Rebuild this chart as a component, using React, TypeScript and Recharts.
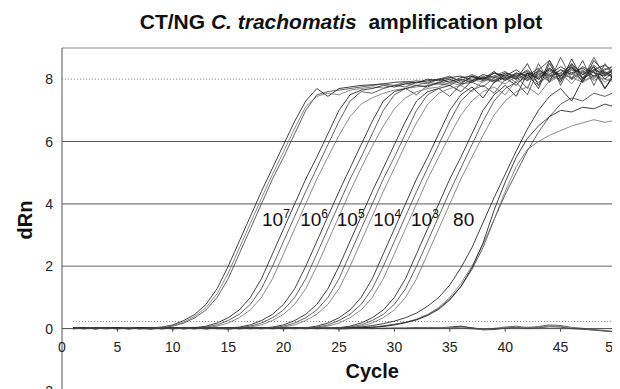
import React from 'react';
import { LineChart, Line, XAxis, YAxis, ReferenceLine, ReferenceDot } from 'recharts';

const CYCLES = [1,2,3,4,5,6,7,8,9,10,11,12,13,14,15,16,17,18,19,20,21,22,23,24,25,26,27,28,29,30,31,32,33,34,35,36,37,38,39,40,41,42,43,44,45,46,47,48,49,50];
const X_TICKS = [0,5,10,15,20,25,30,35,40,45,50];
const Y_TICKS = [-2,0,2,4,6,8];

// 10^7 copies
const CT_1E7_A = [0.02,0.01,0.03,0.02,0.00,0.01,0.02,0.02,0.05,0.12, 0.26,0.46,0.78,1.28,2.0,2.8,3.6,4.4,5.15,5.9, 6.65,7.3,7.7,7.45,7.7,7.75,7.8,7.82,7.85,7.9, 7.92,7.88,8.0,7.95,8.05,8.1,7.95,8.15,8.05,8.2, 8.1,8.25,8.05,8.3,8.1,8.35,8.15,8.3,8.45,8.2];
const CT_1E7_B = [0.01,0.03,0.00,0.02,0.01,0.00,0.02,0.01,0.03,0.08, 0.18,0.35,0.6,1.0,1.6,2.4,3.2,4.0,4.8,5.5, 6.25,7.0,7.5,7.6,7.65,7.7,7.75,7.8,7.85,7.8, 7.9,7.95,7.9,8.0,8.1,7.9,8.05,8.0,8.2,8.05, 8.15,8.0,8.2,8.1,8.3,8.0,8.25,8.1,8.2,8.0];
const CT_1E7_C = [0.00,0.02,0.01,0.03,0.01,0.02,0.00,0.02,0.04,0.1, 0.21,0.4,0.68,1.12,1.78,2.58,3.38,4.18,4.95,5.68, 6.42,7.12,7.45,7.55,7.5,7.65,7.7,7.75,7.72,7.8, 7.85,7.8,7.9,7.85,7.95,8.0,7.9,8.05,7.95,8.1, 7.9,8.05,8.15,7.95,8.2,8.05,7.9,8.1,8.0,7.9];
// 10^6 copies
const CT_1E6_A = [0.02,0.00,0.01,0.03,0.02,0.00,0.01,0.02,0.00,0.01, 0.01,0.03,0.08,0.18,0.35,0.6,1.0,1.6,2.4,3.2, 4.0,4.8,5.5,6.25,7.0,7.5,7.65,7.7,7.8,7.75, 7.85,7.9,7.95,8.0,7.9,8.05,8.1,7.95,8.2,8.1, 8.3,8.05,8.25,8.15,8.4,8.2,8.35,8.1,8.3,8.45];
const CT_1E6_B = [0.01,0.02,0.00,0.01,0.03,0.01,0.00,0.02,0.01,0.00, 0.01,0.02,0.05,0.12,0.26,0.46,0.78,1.28,2.0,2.8, 3.6,4.4,5.15,5.9,6.65,7.3,7.6,7.55,7.7,7.8, 7.75,7.9,7.85,8.0,8.05,7.95,8.15,8.0,8.1,8.25, 8.0,8.2,8.1,8.35,8.05,8.3,8.2,8.45,8.15,8.3];
const CT_1E6_C = [0.00,0.01,0.02,0.00,0.02,0.01,0.03,0.01,0.00,0.02, 0.01,0.01,0.03,0.08,0.18,0.35,0.6,1.0,1.6,2.4, 3.2,4.0,4.8,5.5,6.2,6.8,7.2,7.4,7.55,7.65, 7.7,7.75,7.8,7.9,7.85,8.0,7.9,8.05,7.95,8.1, 8.0,8.15,7.9,8.1,8.0,8.2,7.95,8.1,8.25,8.05];
// 10^5 copies
const CT_1E5_A = [0.01,0.02,0.00,0.01,0.02,0.00,0.01,0.03,0.01,0.00, 0.02,0.01,0.00,0.01,0.02,0.05,0.12,0.26,0.46,0.78, 1.28,2.0,2.8,3.6,4.4,5.15,5.9,6.65,7.3,7.6, 7.7,7.8,7.75,7.9,8.0,7.85,8.1,8.0,8.25,7.95, 8.2,8.1,8.35,8.0,8.3,8.15,8.4,8.2,8.1,8.35];
const CT_1E5_B = [0.02,0.00,0.01,0.02,0.00,0.01,0.02,0.00,0.01,0.02, 0.01,0.00,0.01,0.02,0.01,0.03,0.08,0.18,0.35,0.6, 1.0,1.6,2.4,3.2,4.0,4.8,5.5,6.25,7.0,7.5, 7.7,7.5,7.8,7.85,7.8,8.0,7.9,8.1,7.95,8.2, 8.05,8.3,8.0,8.25,8.1,8.4,8.0,8.3,8.15,8.1];
const CT_1E5_C = [0.01,0.00,0.02,0.01,0.00,0.02,0.01,0.00,0.01,0.03, 0.01,0.00,0.02,0.01,0.01,0.02,0.05,0.12,0.26,0.46, 0.78,1.28,2.0,2.8,3.6,4.4,5.15,5.85,6.5,7.05, 7.4,7.6,7.7,7.75,7.9,7.8,8.0,7.9,8.1,8.0, 8.2,7.95,8.15,8.05,8.3,8.0,8.25,8.05,8.35,8.2];
// 10^4 copies
const CT_1E4_A = [0.01,0.02,0.00,0.01,0.02,0.01,0.00,0.02,0.01,0.00, 0.01,0.02,0.00,0.01,0.02,0.01,0.01,0.02,0.05,0.12, 0.26,0.46,0.78,1.28,2.0,2.8,3.6,4.4,5.15,5.9, 6.65,7.3,7.6,7.7,7.8,7.6,7.95,8.05,7.9,8.15, 8.0,8.5,7.8,8.6,8.0,8.4,7.9,8.6,8.2,8.3];
const CT_1E4_B = [0.00,0.01,0.02,0.00,0.01,0.02,0.00,0.01,0.00,0.02, 0.01,0.00,0.01,0.02,0.00,0.01,0.01,0.02,0.03,0.08, 0.18,0.35,0.6,1.0,1.6,2.4,3.2,4.0,4.8,5.5, 6.25,7.0,7.5,7.7,7.45,7.85,7.9,7.75,8.05,8.0, 8.2,7.95,8.3,8.1,8.2,8.45,8.05,8.3,8.2,8.0];
const CT_1E4_C = [0.02,0.01,0.00,0.02,0.01,0.00,0.01,0.02,0.01,0.00, 0.02,0.01,0.00,0.01,0.02,0.00,0.01,0.01,0.02,0.05, 0.12,0.26,0.46,0.78,1.28,2.0,2.8,3.6,4.4,5.15, 5.9,6.6,7.2,7.55,7.7,7.8,7.6,7.95,8.0,7.85, 8.1,8.0,8.2,7.9,8.15,8.05,8.3,7.95,8.2,8.1];
// 10^3 copies
const CT_1E3_A = [0.01,0.00,0.02,0.01,0.00,0.01,0.02,0.00,0.01,0.02, 0.00,0.01,0.02,0.01,0.00,0.01,0.02,0.01,0.00,0.01, 0.02,0.03,0.08,0.18,0.35,0.6,1.0,1.6,2.4,3.2, 4.0,4.8,5.5,6.25,7.0,7.5,7.75,7.4,7.9,8.05, 7.8,8.2,8.0,8.35,8.1,8.5,8.15,8.4,8.0,8.3];
const CT_1E3_B = [0.02,0.01,0.00,0.02,0.01,0.00,0.01,0.02,0.00,0.01, 0.02,0.01,0.00,0.01,0.02,0.00,0.01,0.02,0.01,0.00, 0.01,0.02,0.05,0.12,0.26,0.46,0.78,1.28,2.0,2.8, 3.6,4.4,5.15,5.9,6.65,7.3,7.65,7.8,7.55,8.0, 8.1,7.7,8.5,7.9,8.7,8.0,8.6,7.8,8.5,8.0];
const CT_1E3_C = [0.00,0.02,0.01,0.00,0.02,0.01,0.00,0.01,0.02,0.00, 0.01,0.00,0.02,0.01,0.00,0.01,0.02,0.00,0.01,0.02, 0.01,0.01,0.03,0.08,0.18,0.35,0.6,1.0,1.6,2.4, 3.2,4.0,4.8,5.5,6.2,6.85,7.3,7.6,7.75,7.5, 7.95,8.1,7.8,8.2,7.95,8.3,8.05,8.25,7.9,8.15];
// 80 copies
const CT_80_A = [0.01,0.02,0.00,0.01,0.02,0.00,0.01,0.00,0.02,0.01, 0.00,0.01,0.02,0.00,0.01,0.02,0.01,0.00,0.01,0.02, 0.00,0.01,0.02,0.01,0.03,0.08,0.18,0.35,0.6,1.0, 1.6,2.4,3.2,4.0,4.8,5.5,6.25,7.0,7.5,7.8, 7.45,8.2,7.7,8.5,7.9,8.65,8.0,8.4,7.7,8.3];
const CT_80_B = [0.00,0.01,0.02,0.01,0.00,0.02,0.01,0.00,0.01,0.02, 0.01,0.00,0.02,0.01,0.00,0.01,0.02,0.01,0.00,0.01, 0.02,0.00,0.01,0.01,0.02,0.05,0.12,0.26,0.46,0.78, 1.28,2.0,2.8,3.6,4.4,5.15,5.9,6.65,7.3,7.7, 7.9,7.5,8.3,8.6,7.8,8.5,8.0,8.7,8.1,8.4];
const CT_80_C = [0.02,0.00,0.01,0.02,0.01,0.00,0.02,0.01,0.00,0.01, 0.02,0.01,0.00,0.02,0.01,0.00,0.01,0.02,0.00,0.01, 0.01,0.02,0.00,0.01,0.02,0.03,0.08,0.18,0.35,0.6, 1.0,1.6,2.4,3.2,4.0,4.8,5.5,6.2,6.85,7.3, 7.6,7.75,7.5,7.95,8.2,7.85,8.3,8.0,8.45,8.1];
// late replicates
const LATE_A = [0.01,0.00,0.02,0.01,0.00,0.01,0.02,0.00,0.01,0.02, 0.00,0.01,0.02,0.01,0.00,0.02,0.01,0.00,0.01,0.02, 0.01,0.00,0.02,0.01,0.02,0.03,0.05,0.1,0.16,0.24, 0.35,0.5,0.72,1.0,1.4,1.95,2.6,3.4,4.2,4.95, 5.7,6.4,7.0,7.45,7.7,7.3,8.0,8.25,7.7,8.2];
const LATE_B = [0.02,0.01,0.00,0.02,0.01,0.00,0.01,0.02,0.01,0.00, 0.01,0.02,0.00,0.01,0.02,0.01,0.00,0.01,0.02,0.00, 0.01,0.02,0.01,0.00,0.02,0.03,0.04,0.05,0.09,0.14, 0.2,0.3,0.45,0.65,0.95,1.35,1.9,2.6,3.5,4.3, 5.0,5.7,6.3,6.8,7.2,7.4,7.3,7.55,7.45,7.6];
const LATE_C = [0.00,0.02,0.01,0.00,0.01,0.02,0.00,0.01,0.02,0.01, 0.00,0.01,0.02,0.00,0.01,0.02,0.01,0.00,0.02,0.01, 0.00,0.01,0.02,0.01,0.02,0.02,0.03,0.04,0.08,0.13, 0.2,0.3,0.45,0.68,1.0,1.45,2.0,2.7,3.5,4.4, 5.2,5.75,6.0,6.2,6.35,6.5,6.6,6.7,6.62,6.68];
const LATE_D = [0.01,0.02,0.00,0.01,0.02,0.00,0.01,0.02,0.00,0.01, 0.02,0.01,0.00,0.01,0.02,0.00,0.01,0.02,0.01,0.00, 0.02,0.01,0.00,0.02,0.01,0.02,0.03,0.04,0.07,0.12, 0.19,0.28,0.42,0.62,0.92,1.35,1.95,2.75,3.8,4.7, 5.5,6.1,6.5,6.8,7.0,6.95,7.1,7.05,7.2,7.1];
// negative controls
const NEG_A = [0.02,0.01,0.03,0.00,0.02,0.01,0.00,-0.01,0.01,0.02, 0.00,0.01,0.02,0.00,-0.01,0.01,0.00,0.02,0.01,0.00, 0.01,0.02,0.00,0.01,-0.01,0.00,0.02,0.01,0.00,0.01, 0.02,0.03,0.01,0.02,0.05,0.08,0.02,-0.04,-0.03,0.02, 0.04,0.01,0.03,0.06,0.05,0.00,-0.02,-0.05,-0.08,-0.1];
const NEG_B = [0.01,0.03,0.01,0.02,0.00,0.02,0.01,0.00,0.02,0.01, 0.01,0.00,0.01,0.02,0.01,0.00,0.02,0.01,0.00,0.02, 0.01,0.00,0.02,0.01,0.00,0.01,0.02,0.00,0.01,0.02, 0.01,0.02,0.04,0.03,0.02,0.06,0.03,-0.02,0.00,0.05, 0.08,0.03,0.07,0.12,0.1,0.04,0.01,-0.03,-0.06,-0.12];
const NEG_C = [0.00,0.02,0.01,0.01,0.03,0.00,0.01,0.02,0.00,0.01, 0.02,0.01,0.00,0.01,0.02,0.01,0.00,0.01,0.02,0.01, 0.00,0.02,0.01,0.00,0.01,0.02,0.01,0.00,0.02,0.01, 0.00,0.01,0.02,0.03,0.04,0.03,-0.01,-0.03,0.01,0.03, 0.02,0.05,0.04,0.09,0.07,0.02,-0.01,-0.04,-0.07,-0.09];

const SERIES = [
  { key: 'neg_a', values: NEG_A },
  { key: 'neg_b', values: NEG_B },
  { key: 'neg_c', values: NEG_C },
  { key: 'e7a', values: CT_1E7_A },
  { key: 'e7b', values: CT_1E7_B },
  { key: 'e7c', values: CT_1E7_C },
  { key: 'e6a', values: CT_1E6_A },
  { key: 'e6b', values: CT_1E6_B },
  { key: 'e6c', values: CT_1E6_C },
  { key: 'e5a', values: CT_1E5_A },
  { key: 'e5b', values: CT_1E5_B },
  { key: 'e5c', values: CT_1E5_C },
  { key: 'e4a', values: CT_1E4_A },
  { key: 'e4b', values: CT_1E4_B },
  { key: 'e4c', values: CT_1E4_C },
  { key: 'e3a', values: CT_1E3_A },
  { key: 'e3b', values: CT_1E3_B },
  { key: 'e3c', values: CT_1E3_C },
  { key: 'c80a', values: CT_80_A },
  { key: 'c80b', values: CT_80_B },
  { key: 'c80c', values: CT_80_C },
  { key: 'la', values: LATE_A },
  { key: 'lb', values: LATE_B },
  { key: 'lc', values: LATE_C },
  { key: 'ld', values: LATE_D },
];

const CURVE_LABELS = [
  { base: '10', exp: '7', cycle: 18.05, value: 3.28 },
  { base: '10', exp: '6', cycle: 21.5, value: 3.28 },
  { base: '10', exp: '5', cycle: 24.8, value: 3.28 },
  { base: '10', exp: '4', cycle: 28.1, value: 3.28 },
  { base: '10', exp: '3', cycle: 31.5, value: 3.28 },
  { base: '80', exp: '', cycle: 35.3, value: 3.28 },
];

const STROKES = ['#111111', '#3c3c3c', '#6e6e6e'];
const THRESHOLD = 0.23;

const rows = CYCLES.map((c, i) => {
  const r: Record<string, number> = { cycle: c };
  SERIES.forEach((s) => {
    r[s.key] = s.values[i];
  });
  return r;
});

const FONT = '"Liberation Sans", Arial, Helvetica, sans-serif';

export default function App() {
  return (
    <div style={{ position: 'relative', width: 612, height: 383, fontFamily: FONT }}>
      <div
        style={{
          position: 'absolute',
          left: 333,
          top: 3,
          transform: 'translateX(-50%)',
          whiteSpace: 'pre',
          fontSize: 21,
          lineHeight: '21px',
          fontWeight: 'bold',
          color: '#111',
        }}
      >
        CT/NG <span style={{ fontStyle: 'italic' }}>C. trachomatis</span>{'  '}amplification plot
      </div>
      <div
        style={{
          position: 'absolute',
          left: 17,
          top: 212,
          transform: 'translate(-50%, -50%) rotate(-90deg)',
          fontSize: 20,
          lineHeight: '20px',
          fontWeight: 'bold',
          color: '#111',
        }}
      >
        dRn
      </div>
      <LineChart width={612} height={383} data={rows} margin={{ top: 40, right: 4, left: 0, bottom: 0 }}>
        <XAxis dataKey="cycle" type="number" domain={[0, 50]} hide allowDataOverflow />
        <YAxis
          type="number"
          domain={[-2, 9]}
          ticks={Y_TICKS}
          interval={0}
          width={54}
          allowDataOverflow
          axisLine={{ stroke: '#555' }}
          tickLine={false}
          tickSize={6}
          tickMargin={3}
          tick={{ fontSize: 14, fill: '#222' }}
        />
        <ReferenceLine y={9} stroke="#8a8a8a" strokeWidth={1} />
        <ReferenceLine x={50} stroke="#8a8a8a" strokeWidth={1} />
        <ReferenceLine y={8} stroke="#8a8a8a" strokeDasharray="1 2" />
        <ReferenceLine y={6} stroke="#5a5a5a" />
        <ReferenceLine y={4} stroke="#5a5a5a" />
        <ReferenceLine y={2} stroke="#9a9a9a" strokeWidth={1.5} />
        <ReferenceLine segment={[{ x: 1, y: THRESHOLD }, { x: 50, y: THRESHOLD }]} stroke="#8a8a8a" strokeDasharray="1 2" />
        {SERIES.map((s, i) => (
          <Line
            key={s.key}
            dataKey={s.key}
            type="linear"
            dot={false}
            activeDot={false}
            stroke={STROKES[i % STROKES.length]}
            strokeWidth={0.8}
            isAnimationActive={false}
          />
        ))}
        <ReferenceLine y={0} stroke="#444" />
        {X_TICKS.map((v) => (
          <ReferenceLine
            key={'xt' + v}
            segment={[{ x: v, y: 0 }, { x: v, y: -0.1 }]}
            stroke={v === 0 ? 'none' : '#444'}
            label={{ value: String(v), position: 'bottom', offset: 10, fontSize: 14, fill: '#222', dx: v === 50 ? -3 : 0 }}
          />
        ))}
        <ReferenceLine
          segment={[{ x: 28.0, y: -1.37 }, { x: 28.0, y: -1.37 }]}
          stroke="none"
          label={{ value: 'Cycle', position: 'center', fontSize: 20, fontWeight: 'bold', fill: '#111' }}
        />
        {CURVE_LABELS.map((l) => (
          <ReferenceDot
            key={'lab' + l.base + l.exp}
            x={l.cycle}
            y={l.value}
            r={0}
            shape={(p: any) => (
              <text x={p.cx} y={p.cy} fontSize={19} fill="#111" textAnchor="start">
                {l.base}
                {l.exp ? (
                  <tspan dy={-8} fontSize={12}>
                    {l.exp}
                  </tspan>
                ) : null}
              </text>
            )}
          />
        ))}
      </LineChart>
    </div>
  );
}
